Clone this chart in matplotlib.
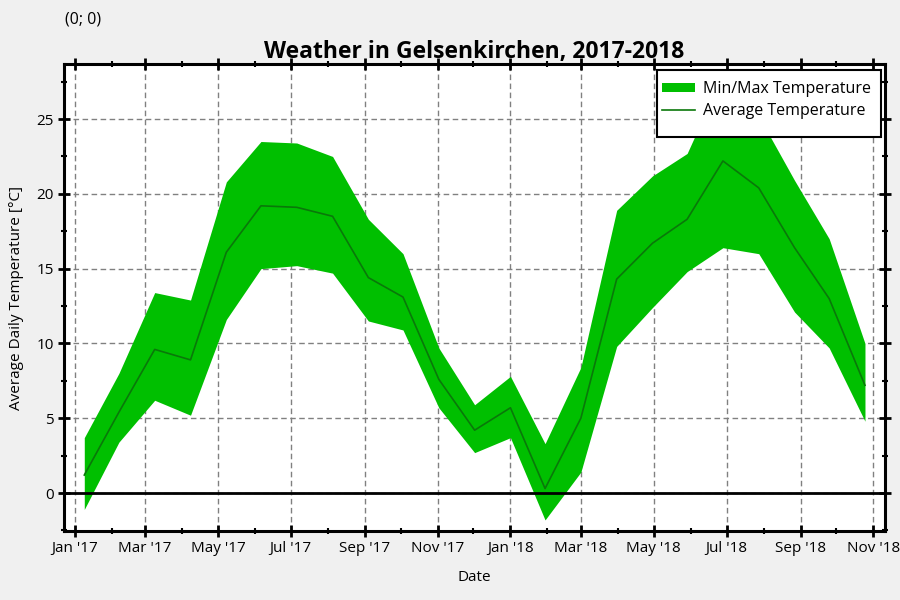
import numpy as np
import pandas as pd
import matplotlib
matplotlib.use("Agg")
import matplotlib.pyplot as plt
import matplotlib.dates as mdates
from matplotlib.ticker import MultipleLocator
from matplotlib.patches import Rectangle

plt.rcParams['font.family'] = ['Open Sans', 'DejaVu Sans']

# sample dates (roughly every 30 days)
dates = pd.to_datetime([
    "2017-01-09", "2017-02-07", "2017-03-09", "2017-04-08", "2017-05-08",
    "2017-06-06", "2017-07-06", "2017-08-05", "2017-09-04", "2017-10-03",
    "2017-11-02", "2017-12-02", "2018-01-01", "2018-01-30", "2018-03-01",
    "2018-03-31", "2018-04-30", "2018-05-29", "2018-06-28", "2018-07-28",
    "2018-08-27", "2018-09-25", "2018-10-25"])

temp_max = [3.7, 8.0, 13.4, 12.9, 20.8, 23.5, 23.4, 22.5, 18.3, 16.0, 9.7,
            5.9, 7.8, 3.3, 8.4, 18.9, 21.2, 22.7, 28.0, 25.2, 20.9, 17.0, 10.0]
temp_avg = [1.2, 5.4, 9.6, 8.9, 16.1, 19.2, 19.1, 18.5, 14.4, 13.1, 7.6,
            4.2, 5.7, 0.3, 5.0, 14.3, 16.7, 18.3, 22.2, 20.4, 16.4, 13.0, 7.2]
temp_min = [-1.1, 3.4, 6.2, 5.2, 11.6, 15.0, 15.2, 14.7, 11.5, 10.9, 5.7,
            2.7, 3.7, -1.8, 1.4, 9.8, 12.4, 14.8, 16.4, 16.0, 12.1, 9.7, 4.8]

fig = plt.figure(figsize=(9, 6), dpi=100, facecolor="#f0f0f0")
ax = fig.add_axes([0.0711, 0.115, 0.9122, 0.7783])
ax.set_facecolor("white")

ax.fill_between(dates, temp_min, temp_max, color="#00bf00", linewidth=0,
                label="Min/Max Temperature", zorder=2)
ax.plot(dates, temp_avg, color="#0a780a", linewidth=1.2,
        label="Average Temperature", zorder=3)
ax.axhline(0, color="black", linewidth=2, zorder=4)

ax.set_xlim(pd.Timestamp("2016-12-23"), pd.Timestamp("2018-11-10 18:00"))
ax.set_ylim(-2.54, 28.68)

ax.xaxis.set_major_locator(mdates.MonthLocator(bymonth=[1, 3, 5, 7, 9, 11]))
ax.xaxis.set_minor_locator(mdates.MonthLocator())
ax.xaxis.set_major_formatter(mdates.DateFormatter("%b '%y"))
ax.yaxis.set_major_locator(MultipleLocator(5))
ax.yaxis.set_minor_locator(MultipleLocator(2.5))

ax.grid(which="major", color="#808080", linestyle=(0, (4, 2.5)), linewidth=1)
ax.set_axisbelow(True)

for sp in ax.spines.values():
    sp.set_linewidth(2.2)
    sp.set_color("black")
ax.tick_params(which="major", direction="inout", length=8, width=2,
               top=True, right=True, labelsize=11, colors="black")
ax.tick_params(which="minor", direction="inout", length=5, width=1.5,
               top=True, right=True)

ax.set_title("Weather in Gelsenkirchen, 2017-2018", fontsize=16.5,
             fontweight="bold", pad=4)
ax.set_xlabel("Date", fontsize=11, labelpad=10)
ax.set_ylabel("Average Daily Temperature [°C]", fontsize=11, labelpad=9)

# legend box drawn separately so its padding matches the original
box = Rectangle((657 / 900, 1 - 137 / 600), 224 / 900, 67 / 600,
                transform=fig.transFigure, facecolor="white",
                edgecolor="black", linewidth=1.5, zorder=9, clip_on=False)
ax.add_patch(box)
leg = ax.legend(loc="upper left", bbox_to_anchor=(657 / 900, 1 - 76 / 600),
                bbox_transform=fig.transFigure, fontsize=11.5, frameon=False,
                handlelength=2.1, handleheight=0.5, handletextpad=0.5,
                labelspacing=0.4, borderaxespad=0, borderpad=0.3)
leg.set_zorder(10)

fig.text(65 / 900, 1 - 19 / 600, "(0; 0)", fontsize=11.5, va="center")

fig.savefig("out.png", dpi=100, facecolor=fig.get_facecolor())
